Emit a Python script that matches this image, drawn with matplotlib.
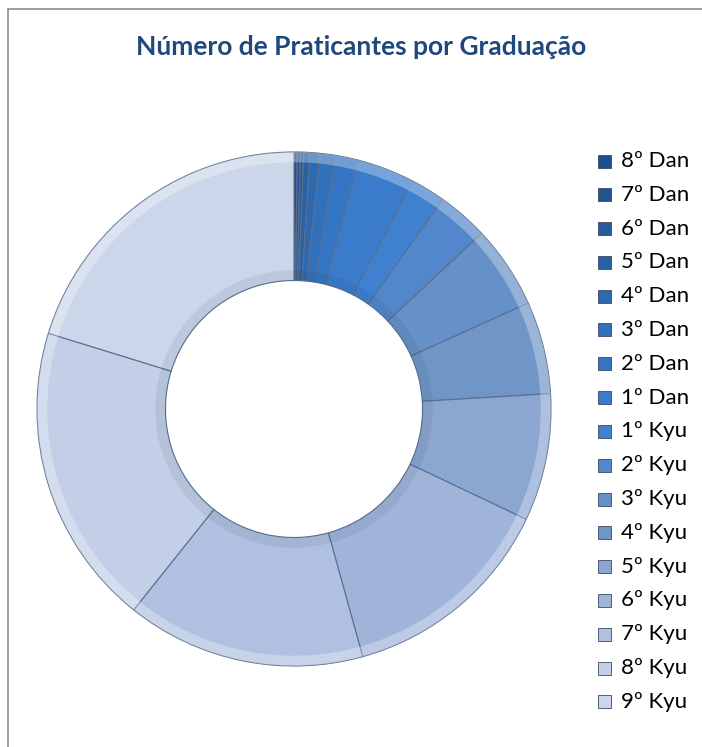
import matplotlib
matplotlib.use('Agg')
from matplotlib import pyplot as plt
from matplotlib.patches import Rectangle, Wedge
import numpy as np

plt.rcParams['font.family'] = ['Lato', 'DejaVu Sans']

# dados (número de praticantes)
graduacoes = ['8º Dan', '7º Dan', '6º Dan', '5º Dan', '4º Dan', '3º Dan', '2º Dan', '1º Dan',
              '1º Kyu', '2º Kyu', '3º Kyu', '4º Kyu', '5º Kyu', '6º Kyu', '7º Kyu', '8º Kyu', '9º Kyu']
praticantes = [1, 1, 1, 2, 3, 5, 7, 18, 11, 16, 26, 29, 40, 68, 75, 95, 101]

cores = ['#1f4f8a', '#22558f', '#255b98', '#2862a3', '#2c69ae', '#3071ba', '#3476c3', '#3a7ccb',
         '#3f80cf', '#5288cb', '#6690c8', '#7096c8', '#8ca6d2', '#a0b4da', '#b0c0e0', '#c2cfe6', '#ccd6ea']

W, H = 702, 747
fig = plt.figure(figsize=(W / 100, H / 100), dpi=100)

# moldura cinza
fig.patches.append(Rectangle((8 / W, -0.05), 1.2, 1 - 9 / H + 0.05, transform=fig.transFigure,
                             fill=False, edgecolor='#8c8c8c', linewidth=1.2))

fig.text(361 / W, 1 - 47 / H, 'Número de Praticantes por Graduação', ha='center', va='center',
         fontsize=19, fontweight='bold', color='#1f497d')

cx, cy, r = 294, 409, 257
ax = fig.add_axes([(cx - r) / W, (H - cy - r) / H, 2 * r / W, 2 * r / H])
wedges, _ = ax.pie(praticantes, colors=cores, startangle=90, counterclock=False, radius=1,
                   wedgeprops=dict(width=0.5, edgecolor='#5a6f90', linewidth=0.8))

# efeito de relevo simples: borda clara por fora, sombra leve por dentro
for w in wedges:
    t1, t2 = w.theta1, w.theta2
    ax.add_patch(Wedge((0, 0), 1.0, t1, t2, width=0.04, facecolor='white', alpha=0.3, edgecolor='none'))
    ax.add_patch(Wedge((0, 0), 0.54, t1, t2, width=0.04, facecolor='#1a2a45', alpha=0.08, edgecolor='none'))

ax.set_xlim(-1, 1)
ax.set_ylim(-1, 1)
ax.set_aspect('equal')
ax.axis('off')

# legenda
y0, dy = 161, 33.8
for i, (g, c) in enumerate(zip(graduacoes, cores)):
    y = 1 - (y0 + i * dy) / H
    fig.patches.append(Rectangle((598 / W, y - 6.5 / H), 13 / W, 13 / H, transform=fig.transFigure,
                                 facecolor=c, edgecolor='#3a4a66', linewidth=0.6))
    fig.text(621 / W, y, g, ha='left', va='center', fontsize=16, color='black')

fig.savefig('out.png', dpi=100)
